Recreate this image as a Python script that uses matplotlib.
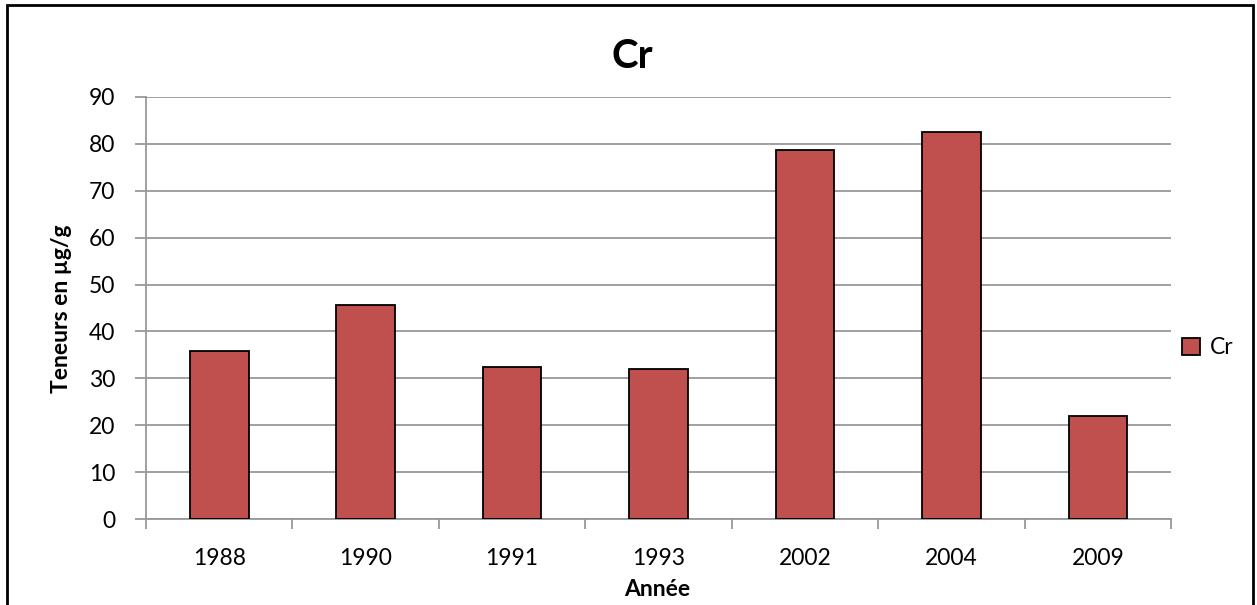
import matplotlib
matplotlib.use("Agg")
import matplotlib.pyplot as plt
from matplotlib.patches import Rectangle, Patch
from matplotlib.ticker import FixedLocator

# Chromium content per sampling year
years = ["1988", "1990", "1991", "1993", "2002", "2004", "2009"]
cr_values = [35.8, 45.6, 32.5, 32.0, 78.6, 82.4, 22.1]
y_ticks = [0, 10, 20, 30, 40, 50, 60, 70, 80, 90]

plt.rcParams["font.family"] = ["Lato", "DejaVu Sans"]

W, H = 1257, 605
fig = plt.figure(figsize=(W / 100, H / 100), dpi=100)
ax = fig.add_axes([146 / W, (H - 519.3) / H, (1171 - 146) / W, (519.3 - 96.7) / H])

bar_color = "#C0504D"
grid_color = "#989898"

x = list(range(len(years)))
ax.bar(x, cr_values, width=0.4, color=bar_color, edgecolor="black",
       linewidth=1.3, zorder=3, label="Cr")

ax.set_xlim(-0.5, len(years) - 0.5)
ax.set_ylim(0, 90)
ax.set_yticks(y_ticks)
ax.set_yticklabels([str(v) for v in y_ticks], fontsize=16.5)
ax.set_xticks(x)
ax.set_xticklabels(years, fontsize=16.5)
ax.xaxis.set_minor_locator(FixedLocator([i - 0.5 for i in range(len(years) + 1)]))

ax.tick_params(axis="x", which="major", length=0, pad=21)
ax.tick_params(axis="x", which="minor", length=7, width=1.3, color=grid_color)
ax.tick_params(axis="y", which="major", length=8, width=1.3, color=grid_color, pad=14)

ax.yaxis.grid(True, color=grid_color, linewidth=1.3, zorder=0)
ax.set_axisbelow(True)
for side in ("top", "right"):
    ax.spines[side].set_visible(False)
for side in ("left", "bottom"):
    ax.spines[side].set_color(grid_color)
    ax.spines[side].set_linewidth(1.3)

fig.text(632 / W, 1 - 57 / H, "Cr", fontsize=29, fontweight="bold",
         ha="center", va="center")
fig.text(61 / W, 1 - 309 / H, "Teneurs en µg/g", fontsize=16.5, fontweight="bold",
         rotation=90, ha="center", va="center")
fig.text(657 / W, 1 - 589 / H, "Année", fontsize=16.5, fontweight="bold",
         ha="center", va="center")

handle = Patch(facecolor=bar_color, edgecolor="black", linewidth=1.3)
fig.legend([handle], ["Cr"], loc="center left",
           bbox_to_anchor=(1182 / W, 1 - 348 / H), frameon=False,
           fontsize=16.5, handlelength=0.8, handleheight=0.8, handletextpad=0.4,
           borderpad=0, borderaxespad=0)

# outer chart frame
fig.patches.append(Rectangle((7 / W, -0.05), (1253 - 7) / W, 1.05 - 5 / H,
                             transform=fig.transFigure, fill=False,
                             edgecolor="black", linewidth=2))

fig.savefig("out.png", dpi=100)
